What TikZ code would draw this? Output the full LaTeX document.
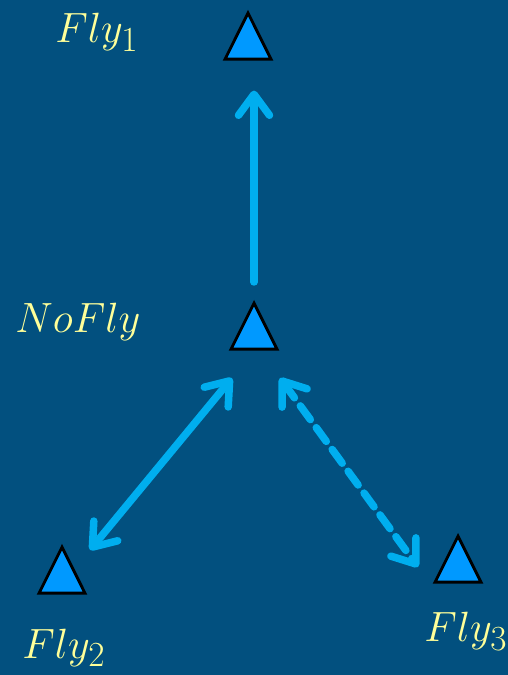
\documentclass[tikz,border=0pt]{standalone}
\usetikzlibrary{arrows.meta, shapes.geometric}
\definecolor{bgblue}{HTML}{02507F}
\definecolor{trifill}{HTML}{0099FF}
\definecolor{linkcyan}{HTML}{00AEEF}
\definecolor{lblyellow}{HTML}{FFFF99}

\begin{document}
\begin{tikzpicture}[
  x=1pt, y=1pt,
  tri/.style={
    isosceles triangle, shape border rotate=90,
    isosceles triangle apex angle=53.13,
    minimum width=46pt, minimum height=46pt, inner sep=0pt,
    draw=black, line width=2.8pt, fill=trifill, anchor=apex
  },
  lbl/.style={text=lblyellow, inner sep=0pt, anchor=base west,
    font=\Huge, scale=1.7, transform shape},
  link/.style={draw=linkcyan, line width=7.5pt, line cap=round,
    {Straight Barb[round, length=21pt, width=31pt]}-{Straight Barb[round, length=21pt, width=31pt]}},
  onelink/.style={link, -{Straight Barb[round, length=21pt, width=31pt]}},
]

% background
\fill[bgblue] (0,0) rectangle (508,675);
\useasboundingbox (0,0) rectangle (508,675);

% states
\node[tri] (fly1)  at (248,665) {};
\node[tri] (nofly) at (254,375) {};
\node[tri] (fly2)  at (62,131)  {};
\node[tri] (fly3)  at (458,142) {};

% labels
\node[lbl] (lfly1)  at (55,632) {$Fly_1$};
\node[lbl] (lnofly) at (15,342) {$NoFly$};
\node[lbl] (lfly2)  at (22,17)  {$Fly_2$};
\node[lbl] (lfly3)  at (424,33) {$Fly_3$};

% transitions
\draw[onelink, shorten <=18pt, shorten >=30pt] (nofly.apex) -- (nofly.apex |- fly1.south);
\draw[link] ([xshift=-22pt,yshift=-78pt]nofly.apex) -- ([xshift=28pt,yshift=-6pt]fly2.apex);
\draw[link, dash pattern=on 17pt off 10pt]
  ([xshift=26pt,yshift=-78pt]nofly.apex) -- ([xshift=-40pt,yshift=-34pt]fly3.apex);
\end{tikzpicture}
\end{document}
